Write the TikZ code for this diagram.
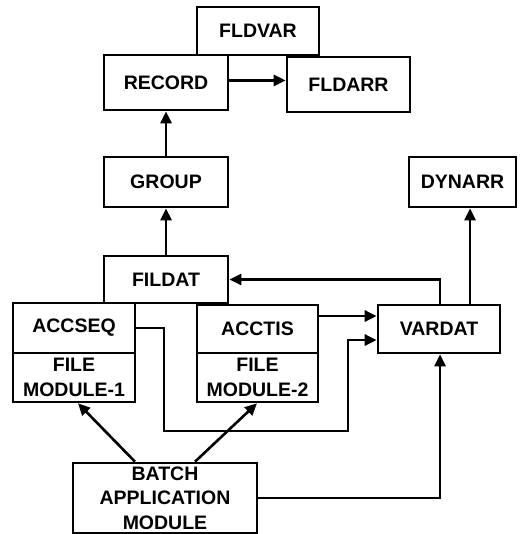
\documentclass[tikz,border=0pt]{standalone}
\usepackage{fontspec}
\setmainfont{Liberation Sans}
\usetikzlibrary{arrows.meta}
\tikzset{
  modbox/.style={draw,line width=2.6pt,inner sep=0pt,align=center,
    font=\bfseries\fontsize{19.5}{24.5}\selectfont},
  link/.style={line width=2.6pt,-{Triangle[length=12pt,width=11pt]}}
}
\begin{document}
\begin{tikzpicture}[x=1pt,y=-1pt]
    \useasboundingbox (0,0) rectangle (531,534);
    % boxes, centre positions in px of the 531x534 frame
    \node[modbox,minimum width=122,minimum height=48] (fldvar) at (258,31) {FLDVAR};
    \node[modbox,minimum width=124,minimum height=55,fill=white] (record) at (166,82.5) {RECORD};
    \node[modbox,minimum width=123,minimum height=55] (fldarr) at (348.5,84.5) {FLDARR};
    \node[modbox,minimum width=124,minimum height=50] (group) at (166,182) {GROUP};
    \node[modbox,minimum width=107,minimum height=50] (dynarr) at (462.5,182) {DYNARR};
    \node[modbox,minimum width=124,minimum height=47] (fildat) at (166,279.5) {FILDAT};
    \node[modbox,minimum width=122,minimum height=50] (accseq) at (74,328) {ACCSEQ};
    \node[modbox,minimum width=122,minimum height=49] (filemodA) at (74,377.5) {FILE\\MODULE-1};
    \node[modbox,minimum width=121,minimum height=48] (acctis) at (257.5,329) {ACCTIS};
    \node[modbox,minimum width=121,minimum height=49] (filemodB) at (257.5,377.5) {FILE\\MODULE-2};
    \node[modbox,minimum width=122,minimum height=48] (vardat) at (439,329) {VARDAT};
    \node[modbox,minimum width=184,minimum height=70] (batch) at (165,498) {BATCH\\APPLICATION\\MODULE};
    \coordinate (loopA) at (164,431);
    \coordinate (loopB) at (348,431);
    % connectors
    \draw[link] ([yshift=2pt]record.east) -- ([yshift=2pt]record.east -| fldarr.west);
    \draw[link] (group) -- (record);
    \draw[link] (fildat) -- (group);
    \draw[link] ([xshift=1pt]vardat.north) |- (fildat.east);
    \draw[link] ([xshift=31pt]vardat.north) -- ([xshift=31pt]vardat.north |- dynarr.south);
    \draw[link] ([yshift=13pt]acctis.east) -- ([yshift=13pt]acctis.east -| vardat.west);
    \draw[link] (accseq.east) -| (loopA) -- (loopB) |- ([yshift=-11pt]vardat.west);
    \draw[link] ([xshift=-30pt]batch.north) -- ([xshift=4pt]filemodA.south);
    \draw[link] ([xshift=30pt]batch.north) -- ([xshift=-0.5pt]filemodB.south);
    \draw[link] (batch.east) -| ([xshift=1pt]vardat.south);
\end{tikzpicture}
\end{document}
